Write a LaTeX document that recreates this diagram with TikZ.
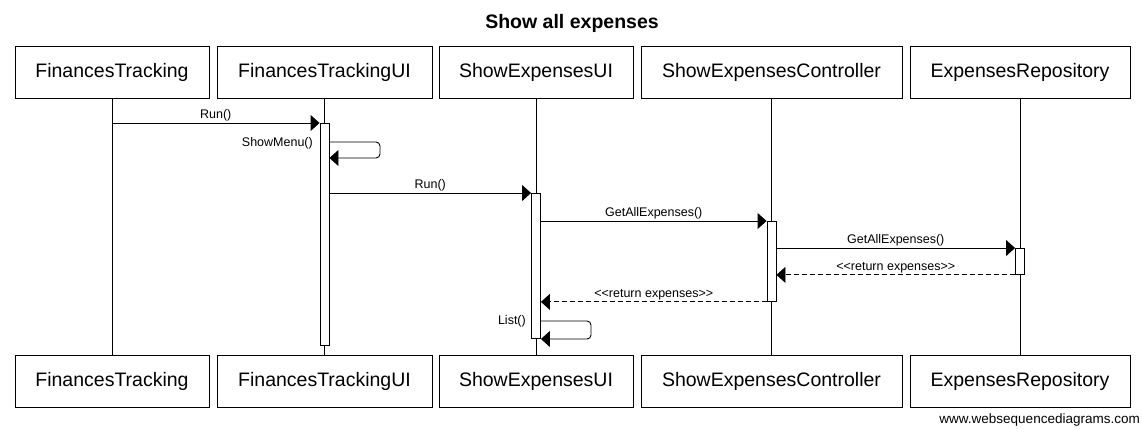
\documentclass[tikz,border=0pt]{standalone}
\usepackage{fontspec}
\setmainfont{Liberation Sans}
\usetikzlibrary{arrows.meta,positioning}

\begin{document}
\begin{tikzpicture}[x=1pt, y=-1pt,
    actor/.style={draw, line width=0.9pt, minimum height=52pt, inner sep=0pt, anchor=north, font=\fontsize{19.5}{22}\selectfont},
    actbar/.style={draw, line width=0.9pt, fill=white, minimum width=9pt, inner sep=0pt, anchor=north},
    lifeline/.style={line width=0.8pt},
    msg/.style={line width=0.9pt, -{Triangle[length=9pt, width=16pt]}},
    reply/.style={msg, dash pattern=on 5pt off 3pt},
    lbl/.style={font=\fontsize{12.5}{14}\selectfont, inner sep=1pt}]
    \useasboundingbox (0,0) rectangle (1142,428);
    \node[font=\fontsize{19.5}{22}\selectfont\bfseries] (title) at (572,23) {Show all expenses};
    \node[actor, minimum width=194pt] (ftT) at (112,46) {FinancesTracking};
    \node[actor, minimum width=215pt] (ftuiT) at (324.5,46) {FinancesTrackingUI};
    \node[actor, minimum width=194pt] (seuiT) at (536,46) {ShowExpensesUI};
    \node[actor, minimum width=261pt] (secT) at (771.5,46) {ShowExpensesController};
    \node[actor, minimum width=220pt] (erT) at (1020,46) {ExpensesRepository};
    \node[actor, minimum width=194pt] (ftB) at (112,355) {FinancesTracking};
    \node[actor, minimum width=215pt] (ftuiB) at (324.5,355) {FinancesTrackingUI};
    \node[actor, minimum width=194pt] (seuiB) at (536,355) {ShowExpensesUI};
    \node[actor, minimum width=261pt] (secB) at (771.5,355) {ShowExpensesController};
    \node[actor, minimum width=220pt] (erB) at (1020,355) {ExpensesRepository};
    \foreach \p in {ft,ftui,seui,sec,er}
        \draw[lifeline] (\p T.south) -- (\p B.north);
    \node[actbar, minimum height=222pt] (barA) at (324.5,123) {};
    \node[actbar, minimum height=145pt] (barB) at (536,193) {};
    \node[actbar, minimum height=80pt] (barC) at (771.5,221) {};
    \node[actbar, minimum height=26pt] (barD) at (1020,248) {};
    \coordinate (menuTop) at (380,142);
    \coordinate (menuBot) at (380,158);
    \coordinate (listTop) at (591,321);
    \coordinate (listBot) at (591,339);
    \draw[msg] (ftT.south |- barA.north) -- (barA.north west) node[lbl, midway, above] {Run()};
    \draw[msg, rounded corners=4pt] (barA.east |- menuTop) -- (menuTop) -- (menuBot) -- (barA.east |- menuBot);
    \node[lbl, anchor=east] (menuLbl) at (314,143) {ShowMenu()};
    \draw[msg] (barA.east |- barB.north) -- (barB.north west) node[lbl, midway, above] {Run()};
    \draw[msg] (barB.east |- barC.north) -- (barC.north west) node[lbl, midway, above] {GetAllExpenses()};
    \draw[msg] (barC.east |- barD.north) -- (barD.north west) node[lbl, midway, above] {GetAllExpenses()};
    \draw[reply] (barD.south west) -- (barC.east |- barD.south) node[lbl, midway, above] {<{}<return expenses>{}>};
    \draw[reply] (barC.south west) -- (barB.east |- barC.south) node[lbl, midway, above] {<{}<return expenses>{}>};
    \draw[msg, rounded corners=4pt] (barB.east |- listTop) -- (listTop) -- (listBot) -- (barB.east |- listBot);
    \node[lbl, anchor=east] (listLbl) at (527,321) {List()};
    \node[font=\fontsize{13.5}{15}\selectfont, anchor=east, inner sep=0pt] (footer) at (1140,420) {www.websequencediagrams.com};
\end{tikzpicture}
\end{document}
